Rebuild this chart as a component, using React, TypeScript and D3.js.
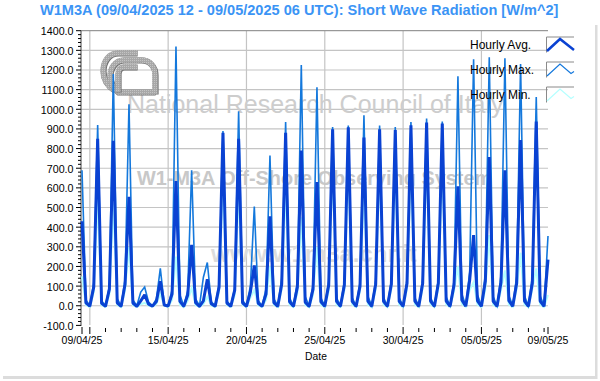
import React from "react";
import * as d3 from "d3";

const titleText = "W1M3A (09/04/2025 12 - 09/05/2025 06 UTC): Short Wave Radiation [W/m^2]";
const yMajor = [-100, 0, 100, 200, 300, 400, 500, 600, 700, 800, 900, 1000, 1100, 1200, 1300, 1400];
const xLabels = ["2025-04-09T12:00Z", "2025-04-15T00:00Z", "2025-04-20T00:00Z", "2025-04-25T00:00Z", "2025-04-30T00:00Z", "2025-05-05T00:00Z", "2025-05-09T06:00Z"];
const xGrid = ["2025-04-10T00:00Z", "2025-04-15T00:00Z", "2025-04-20T00:00Z", "2025-04-25T00:00Z", "2025-04-30T00:00Z", "2025-05-05T00:00Z"];

// one value per day, 09/04 onward, 12 UTC
const avgNoon = [430, 850, 840, 555, 55, 125, 635, 310, 135, 880, 850, 205, 455, 880, 790, 630, 898, 908, 856, 898, 895, 918, 933, 928, 608, 360, 757, 690, 843, 938];
const maxNoon = [690, 920, 1180, 1025, 95, 190, 1320, 690, 220, 890, 990, 505, 765, 935, 1225, 1112, 910, 918, 970, 918, 910, 935, 953, 938, 1168, 1254, 1265, 1260, 1230, 1062];
const minNoon = [150, 550, 520, 300, 15, 60, 250, 90, 45, 650, 600, 80, 200, 600, 450, 300, 700, 720, 600, 700, 710, 720, 750, 720, 200, 120, 360, 180, 270, 190];
// 18 UTC
const avgEve = [15, 12, 15, 14, 8, 4, 22, 16, 10, 14, 15, 12, 16, 20, 18, 20, 22, 22, 24, 22, 22, 24, 24, 24, 30, 25, 22, 26, 24, 24];
const maxEve = [30, 25, 35, 30, 18, 8, 55, 35, 20, 24, 28, 25, 35, 40, 45, 40, 40, 40, 48, 42, 40, 42, 42, 44, 60, 55, 45, 52, 50, 50];
const minEve = [4, 3, 4, 3, 1, 0, 5, 3, 2, 4, 4, 2, 4, 5, 5, 5, 6, 6, 6, 6, 6, 6, 7, 7, 8, 6, 5, 6, 6, 6];
// 00 UTC of the next day
const avgNight = [-2, -3, -3, -3, -2, -2, -3, -3, -3, -3, -3, -3, -3, -3, -3, -3, -3, -3, -3, -3, -3, -3, -3, -3, -3, -3, -3, -3, -3, -3];
const maxNight = [0, 0, 1, 0, 0, 0, 0, 0, 0, 0, 0, 0, 0, 0, 0, 0, 0, 0, 0, 0, 0, 0, 0, 0, 0, 0, 0, 0, 0, 0];
const minNight = [-6, -6, -6, -6, -5, -5, -6, -6, -6, -6, -6, -6, -6, -6, -6, -6, -6, -6, -6, -6, -6, -6, -6, -6, -6, -6, -6, -6, -6, -6];
// 06 UTC of the next day, 10/04 to 09/05
const avgMorn = [95, 85, 110, 25, 22, 60, 55, 25, 95, 80, 70, 60, 110, 95, 85, 105, 105, 100, 110, 110, 115, 115, 115, 105, 130, 125, 120, 115, 115, 235];
const maxMorn = [115, 100, 135, 70, 35, 80, 75, 145, 110, 90, 100, 85, 140, 120, 105, 125, 125, 120, 130, 130, 135, 135, 135, 125, 170, 160, 155, 150, 150, 355];
const minMorn = [70, 60, 80, 8, 10, 30, 25, 8, 70, 55, 40, 30, 85, 65, 55, 75, 80, 75, 85, 85, 85, 90, 90, 75, 80, 85, 80, 85, 85, 55];

const legendItems = ["Hourly Avg.", "Hourly Max.", "Hourly Min."];
const seriesColors = ["#0a42d2", "#1478dc", "#b4ffff"];
const seriesWidths = [3, 1.6, 2];

type Pt = { t: Date; v: number };
const t0 = Date.UTC(2025, 3, 9, 12);
const H = 3600 * 1000;
function build(noon: number[], eve: number[], night: number[], morn: number[]): Pt[] {
  const out: Pt[] = [];
  noon.forEach((n, i) => {
    const base = t0 + i * 24 * H;
    out.push({ t: new Date(base), v: n });
    out.push({ t: new Date(base + 6 * H), v: eve[i] });
    out.push({ t: new Date(base + 12 * H), v: night[i] });
    out.push({ t: new Date(base + 18 * H), v: morn[i] });
  });
  return out;
}
const avgSeries = build(avgNoon, avgEve, avgNight, avgMorn);
const maxSeries = build(maxNoon, maxEve, maxNight, maxMorn);
const minSeries = build(minNoon, minEve, minNight, minMorn);

const x = d3.scaleUtc().domain([new Date(xLabels[0]), new Date(xLabels[6])]).range([82, 548]);
const y = d3.scaleLinear().domain([-100, 1400]).range([325.4, 30.7]);
const line = d3.line<Pt>().x((d) => x(d.t)).y((d) => y(d.v));
const dayTicks = d3.utcDay.range(new Date("2025-04-10T00:00Z"), new Date("2025-05-09T12:00Z"));
const minorY = d3.range(-100, 1401, 20);
const fmt = d3.utcFormat("%d/%m/%y");
const font = "'Liberation Sans', Arial, sans-serif";

export default function App() {
  const right = x.range()[1];
  return (
    <svg width={600} height={381} style={{ position: "absolute", left: 0, top: 0, display: "block", background: "#fff" }} fontFamily={font}>
      <defs>
        <pattern id="tex" width="2" height="2" patternUnits="userSpaceOnUse">
          <rect width="2" height="2" fill="#a8a8a8" />
          <rect width="1" height="1" fill="#c4c4c4" />
        </pattern>
      </defs>
      <rect x={595} y={25} width={2.5} height={354} fill="#dcdcdc" />
      <rect x={3} y={376} width={594} height={3} fill="#dcdcdc" />

      <text x={40} y={14.5} fontSize={14.55} fontWeight="bold" fill="#3b94f5">{titleText}</text>

      {yMajor.filter((v) => v >= 0 && v < 1400).map((v) => (
        <line key={v} x1={81} x2={right} y1={y(v)} y2={y(v)} stroke="#c4c4c4" strokeWidth={1.2} />
      ))}
      {xGrid.map((d) => (
        <line key={d} x1={x(new Date(d))} x2={x(new Date(d))} y1={31} y2={325} stroke="#c4c4c4" strokeWidth={1.2} />
      ))}

      <text x={127} y={113} fontSize={25} fill="#cdcdcd">National Research Council of Italy</text>
      <text x={137} y={185} fontSize={19.9} fontWeight="bold" fill="#c8c8c8">W1-M3A Off-Shore Observing System</text>
      <text x={211} y={262} fontSize={24} fontWeight="bold" fill="#dcdcdc">www.w1m3a.cnr.it</text>

      <g fill="none" strokeLinecap="butt">
        {["M137,53 H118 C108,53 103,62 103,71 C103,80 108,86 114,90",
          "M155,94 V75 C155,66 149,60 141,60 H124 C115,60 110,68 110,76 C110,82 113,88 118,92 H155",
          "M137,67 H124 C120,67 118,70 118,74 V92"].map((p) => (
          <g key={p}>
            <path d={p} stroke="#6f6f6f" strokeWidth={6} transform="translate(0.6,0.6)" />
            <path d={p} stroke="url(#tex)" strokeWidth={5.4} />
          </g>
        ))}
      </g>

      <line x1={81} x2={right} y1={30.7} y2={30.7} stroke="#808080" strokeWidth={1} />
      <line x1={81} x2={81} y1={30.7} y2={326} stroke="#404040" strokeWidth={1} />

      <g fill="none" strokeLinejoin="miter">
        <path d={line(minSeries) ?? ""} stroke={seriesColors[2]} strokeWidth={seriesWidths[2]} />
        <path d={line(maxSeries) ?? ""} stroke={seriesColors[1]} strokeWidth={seriesWidths[1]} />
        <path d={line(avgSeries) ?? ""} stroke={seriesColors[0]} strokeWidth={seriesWidths[0]} strokeLinejoin="bevel" />
      </g>

      {minorY.map((v) => (
        <line key={v} x1={v % 100 === 0 ? 76 : 78} x2={81} y1={y(v)} y2={y(v)} stroke="#000" strokeWidth={1} />
      ))}
      {yMajor.map((v) => (
        <text key={v} x={73.5} y={y(v) + 4.5} textAnchor="end" fontSize={10.7} fill="#000">{v.toFixed(1)}</text>
      ))}

      {dayTicks.map((d) => {
        const major = xGrid.some((g) => +new Date(g) === +d);
        return <line key={+d} x1={x(d)} x2={x(d)} y1={major ? 327 : 328} y2={major ? 334 : 332} stroke="#000" strokeWidth={1} />;
      })}
      {[xLabels[0], xLabels[6]].map((d) => (
        <line key={d} x1={x(new Date(d))} x2={x(new Date(d))} y1={327} y2={334} stroke="#000" strokeWidth={1} />
      ))}
      {xLabels.map((d) => (
        <text key={d} x={x(new Date(d))} y={344} textAnchor="middle" fontSize={10.5} fill="#000">{fmt(new Date(d))}</text>
      ))}
      <text x={316} y={360} textAnchor="middle" fontSize={10.3} fill="#000">Date</text>

      {legendItems.map((name, i) => {
        const top = 36.5 + i * 25;
        const tail = i === 0 ? `L574,${top + 13.5}` : `L571,${top + 12} L574,${top + 10}`;
        return (
          <g key={name}>
            <text x={470} y={49 + i * 25} fontSize={12} fill="#000">{name}</text>
            <path d={`M546.5,${top + 16} V${top + 0.5} H574`} fill="none" stroke="#8a8a8a" strokeWidth={1} />
            <path
              d={`M547,${top + 14.5} L560,${top + 2.5} ${tail}`}
              fill="none"
              stroke={seriesColors[i]}
              strokeWidth={i === 0 ? 2.5 : 1.2}
            />
          </g>
        );
      })}
    </svg>
  );
}
